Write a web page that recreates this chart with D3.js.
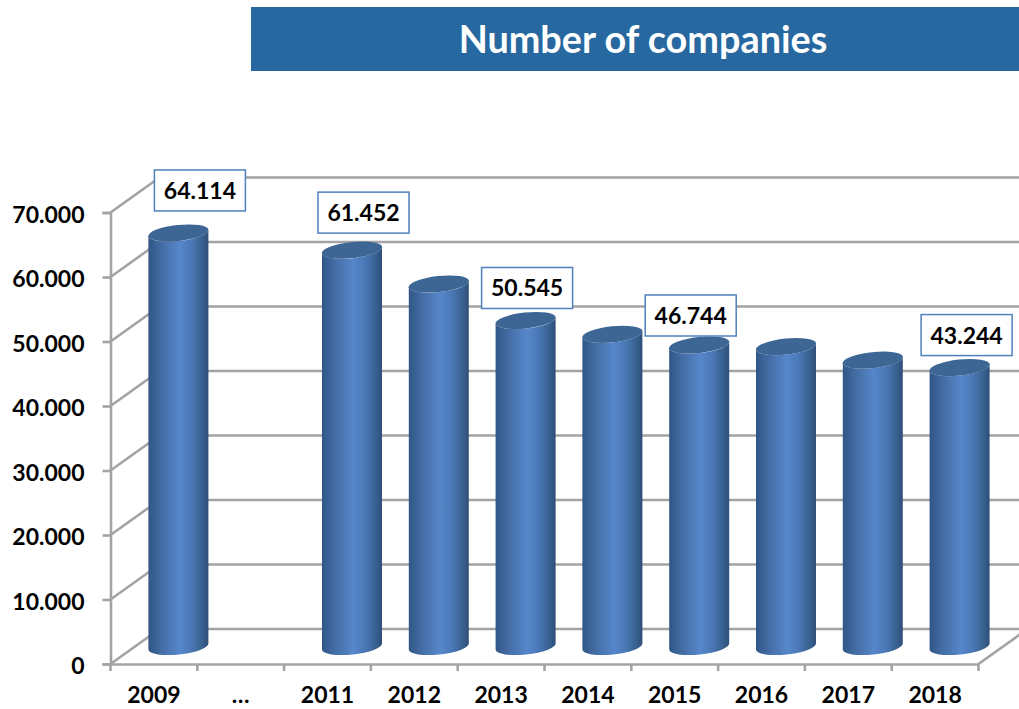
<!DOCTYPE html>
<html>
<head>
<meta charset="utf-8">
<script src="https://cdn.jsdelivr.net/npm/d3@7"></script>
<style>
  html, body { margin: 0; padding: 0; background: #fff; }
  svg { display: block; }
  text { font-family: Lato, sans-serif; font-weight: 700; fill: #000; }
</style>
</head>
<body>
<div id="viz"></div>
<script>
var years = ["2009", "…", "2011", "2012", "2013", "2014", "2015", "2016", "2017", "2018"];
var companies = [64114, null, 61452, 56200, 50545, 48400, 46744, 46500, 44400, 43244];
var valueLabels = ["64.114", null, "61.452", null, "50.545", null, "46.744", null, null, "43.244"];
var labelShiftX = [21.5, 0, 11.5, 0, 1.5, 0, -8.5, 0, 0, 7];
var labelGap = [22, 0, 17, 0, 12, 0, 9, 0, 0, 12];
var yTicks = [0, 10000, 20000, 30000, 40000, 50000, 60000, 70000];
var title = "Number of companies";

var width = 1019, height = 709;
var depthX = 49, depthY = 35;
var tilt = 3.2, ry = 8, barWidth = 60;

var svg = d3.select("#viz").append("svg")
  .attr("width", width)
  .attr("height", height);

var x = d3.scaleBand().domain(d3.range(years.length)).range([110.5, 978.5]);
var y = d3.scaleLinear().domain([0, 70000]).range([664, 212.5]);
var fmt = d3.formatLocale({ decimal: ",", thousands: ".", grouping: [3], currency: ["", ""] }).format(",");

// title band
svg.append("rect")
  .attr("x", 251).attr("y", 7)
  .attr("width", 768).attr("height", 64)
  .attr("fill", "#26689f");
svg.append("text")
  .attr("x", 643).attr("y", 53)
  .attr("text-anchor", "middle")
  .style("font-size", "37.8px")
  .style("fill", "#fff")
  .text(title);

// gradient for the cylinders
var grad = svg.append("defs").append("linearGradient")
  .attr("id", "cyl").attr("x1", 0).attr("x2", 1).attr("y1", 0).attr("y2", 0);
grad.selectAll("stop")
  .data([[0, "#2f5685"], [0.18, "#41699f"], [0.52, "#5687cb"], [0.72, "#4a78b5"], [0.9, "#38608f"], [1, "#2e4f78"]])
  .enter().append("stop")
  .attr("offset", function(d) { return d[0]; })
  .attr("stop-color", function(d) { return d[1]; });

var grey = "#a3a3a3";

// walls: side diagonal plus back line for every tick
var grid = svg.append("g").attr("fill", "none").attr("stroke", grey).attr("stroke-width", 2.6);
grid.selectAll("path")
  .data(yTicks)
  .enter().append("path")
  .attr("d", function(d) {
    var px = x.range()[0], py = y(d);
    return "M" + px + "," + py + "L" + (px + depthX) + "," + (py - depthY) + "L" + width + "," + (py - depthY);
  });

// floor right edge
svg.append("line")
  .attr("x1", x.range()[1]).attr("y1", y(0))
  .attr("x2", x.range()[1] + depthX).attr("y2", y(0) - depthY)
  .attr("stroke", grey).attr("stroke-width", 2.6);

// y axis
var yAxis = svg.append("g")
  .attr("transform", "translate(" + x.range()[0] + ",0)")
  .call(d3.axisLeft(y).tickValues(yTicks).tickFormat(fmt).tickSize(8).tickPadding(18));
yAxis.attr("font-family", null);
yAxis.selectAll("path, line").attr("stroke", grey).attr("stroke-width", 2.6);
yAxis.selectAll("text").attr("dy", "0.42em").style("font-size", "23px");

// x axis, ticks sit on the band edges
var xAxis = svg.append("g")
  .attr("transform", "translate(0," + y(0) + ")")
  .call(d3.axisBottom(x).tickFormat(function(i) { return years[i]; }).tickSize(0).tickPadding(23));
xAxis.attr("font-family", null);
xAxis.select("path").attr("stroke", grey).attr("stroke-width", 2.6);
xAxis.selectAll("text").style("font-size", "23px");
xAxis.selectAll("line.edge")
  .data(d3.range(years.length + 1))
  .enter().append("line")
  .attr("class", "edge")
  .attr("x1", function(i) { return x.range()[0] + i * x.step(); })
  .attr("x2", function(i) { return x.range()[0] + i * x.step(); })
  .attr("y1", 0).attr("y2", 7)
  .attr("stroke", grey).attr("stroke-width", 2.6);

// cylinders
var rows = companies.map(function(v, i) { return { i: i, v: v }; })
  .filter(function(d) { return d.v !== null; });
var cx = function(d) { return x(d.i) + x.bandwidth() / 2 + depthX / 2; };
var base = function() { return y(0) - depthY / 2; };
var top_ = function(d) { return y(d.v) - depthY / 2; };

var bars = svg.append("g").selectAll("g")
  .data(rows)
  .enter().append("g");

bars.append("path")
  .attr("fill", "url(#cyl)")
  .attr("d", function(d) {
    var l = cx(d) - barWidth / 2, r = cx(d) + barWidth / 2;
    var rx = barWidth / 2, rot = -Math.atan2(tilt, rx) * 180 / Math.PI;
    return "M" + l + "," + (top_(d) + tilt) +
      "L" + l + "," + (base() + tilt) +
      "A" + rx + "," + ry + " " + rot + " 0 0 " + r + "," + (base() - tilt) +
      "L" + r + "," + (top_(d) - tilt) +
      "A" + rx + "," + ry + " " + rot + " 0 1 " + l + "," + (top_(d) + tilt) + "Z";
  });

bars.append("ellipse")
  .attr("rx", barWidth / 2 + 0.3)
  .attr("ry", ry)
  .attr("fill", "#3e6695")
  .attr("transform", function(d) {
    return "translate(" + cx(d) + "," + top_(d) + ") rotate(" + (-Math.atan2(tilt, barWidth / 2) * 180 / Math.PI) + ")";
  });

// value callouts
var callouts = svg.append("g").selectAll("g")
  .data(rows.filter(function(d) { return valueLabels[d.i]; }))
  .enter().append("g")
  .attr("transform", function(d) {
    return "translate(" + (cx(d) + labelShiftX[d.i]) + "," + (top_(d) - labelGap[d.i]) + ")";
  });
callouts.append("rect")
  .attr("x", -45.5).attr("y", -41)
  .attr("width", 91).attr("height", 41)
  .attr("fill", "#fff")
  .attr("stroke", "#4f81bd").attr("stroke-width", 1.5);
callouts.append("text")
  .attr("y", -12)
  .attr("text-anchor", "middle")
  .style("font-size", "23px")
  .text(function(d) { return valueLabels[d.i]; });
</script>
</body>
</html>
